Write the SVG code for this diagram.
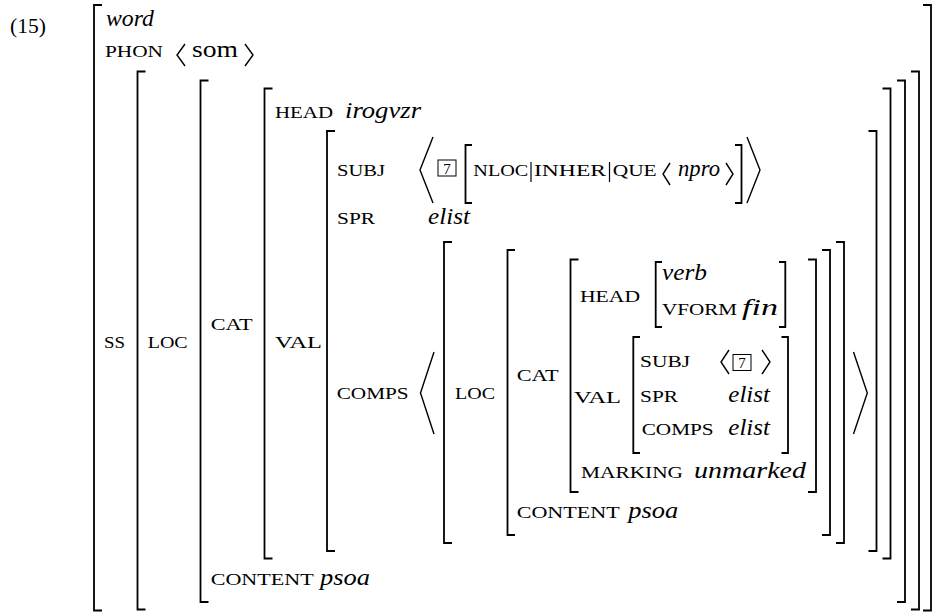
<svg xmlns="http://www.w3.org/2000/svg" width="932" height="612" viewBox="0 0 932 612">
<style>
.b{fill:none;stroke:#000;stroke-width:1.8}
.a{fill:none;stroke:#000;stroke-width:1.4;stroke-linejoin:miter}
.v{stroke:#000;stroke-width:1.2}
text{font-family:"Liberation Serif","Times New Roman",serif;fill:#000}
.sc{font-size:17.5px}
.it{font-size:24px;font-style:italic}
.rm{font-size:24px}
.bx{fill:none;stroke:#000;stroke-width:1}
.n{font-size:15px;text-anchor:middle}
</style>
<rect width="932" height="612" fill="#fff"/>
<g id="brackets">
<path class="b" d="M102,5 H94 V610.5 H102 M923,5 H931 V610.5 H923"/>
<path class="b" d="M145.5,71.5 H137.5 V609.5 H145.5 M911,71.5 H919 V609.5 H911"/>
<path class="b" d="M208.5,80.5 H200.5 V602 H208.5 M897,80.5 H905 V602 H897"/>
<path class="b" d="M272.5,88.5 H264.5 V558.5 H272.5 M882.5,88.5 H890.5 V558.5 H882.5"/>
<path class="b" d="M335,131 H327 V551 H335 M868.5,131 H876.5 V551 H868.5"/>
<path class="b" d="M472,145 H465.5 V203 H472 M735,145 H741.5 V203 H735"/>
<path class="b" d="M452,242 H444 V543 H452 M836,242 H844 V543 H836"/>
<path class="b" d="M515,250 H507.5 V535 H515 M822,250 H830 V535 H822"/>
<path class="b" d="M578.5,259.5 H570.5 V492 H578.5 M808,259.5 H816 V492 H808"/>
<path class="b" d="M662,262 H655.7 V327 H662 M779,262 H785.3 V327 H779"/>
<path class="b" d="M640,337 H633.3 V453 H640 M781.5,337 H788 V453 H781.5"/>
</g>
<g id="angles">
<polyline class="a" points="185,44 177,55 185,66"/>
<polyline class="a" points="245,44 253,55 245,66"/>
<polyline class="a" points="433,137 420,170 433,203"/>
<polyline class="a" points="747,137 760,170 747,203"/>
<polyline class="a" points="670,163 663,174 670,185"/>
<polyline class="a" points="726,163 733,174 726,185"/>
<polyline class="a" points="434,352 420.5,393 434,434"/>
<polyline class="a" points="853.5,352 867.3,393 853.5,434"/>
<polyline class="a" points="729,350 721,362 729,374"/>
<polyline class="a" points="762,350 770,362 762,374"/>
<line class="v" x1="531" y1="162" x2="531" y2="182"/>
<line class="v" x1="609.5" y1="162" x2="609.5" y2="182"/>
</g>
<g id="tags">
<rect class="bx" x="438" y="160" width="18" height="16"/>
<text class="n" x="447" y="173.5">7</text>
<rect class="bx" x="733" y="354.5" width="18" height="16"/>
<text class="n" x="742" y="368">7</text>
</g>
<g id="labels">
<text class="rm" x="10" y="33" font-size="21" style="font-size:21px" textLength="36" lengthAdjust="spacingAndGlyphs">(15)</text>
<text class="it" x="106" y="26" textLength="48" lengthAdjust="spacingAndGlyphs">word</text>
<text class="sc" x="105" y="56.7" textLength="58" lengthAdjust="spacingAndGlyphs">PHON</text>
<text class="rm" x="192" y="56.7" textLength="46" lengthAdjust="spacingAndGlyphs">som</text>
<text class="sc" x="275" y="118" textLength="58" lengthAdjust="spacingAndGlyphs">HEAD</text>
<text class="it" x="345" y="118" textLength="76" lengthAdjust="spacingAndGlyphs">irogvzr</text>
<text class="sc" x="337" y="175.5" textLength="48" lengthAdjust="spacingAndGlyphs">SUBJ</text>
<text class="sc" x="473.3" y="175.5" textLength="55" lengthAdjust="spacingAndGlyphs">NLOC</text>
<text class="sc" x="534" y="175.5" textLength="72" lengthAdjust="spacingAndGlyphs">INHER</text>
<text class="sc" x="612.7" y="175.5" textLength="44" lengthAdjust="spacingAndGlyphs">QUE</text>
<text class="it" x="678" y="175.5" textLength="42" lengthAdjust="spacingAndGlyphs">npro</text>
<text class="sc" x="337" y="224" textLength="38" lengthAdjust="spacingAndGlyphs">SPR</text>
<text class="it" x="428" y="224" textLength="42" lengthAdjust="spacingAndGlyphs">elist</text>
<text class="sc" x="104" y="348" textLength="21" lengthAdjust="spacingAndGlyphs">SS</text>
<text class="sc" x="147.7" y="348" textLength="40" lengthAdjust="spacingAndGlyphs">LOC</text>
<text class="sc" x="210.7" y="330" textLength="42" lengthAdjust="spacingAndGlyphs">CAT</text>
<text class="sc" x="275" y="348" textLength="47" lengthAdjust="spacingAndGlyphs">VAL</text>
<text class="sc" x="336.7" y="399" textLength="72" lengthAdjust="spacingAndGlyphs">COMPS</text>
<text class="sc" x="455" y="399" textLength="40" lengthAdjust="spacingAndGlyphs">LOC</text>
<text class="sc" x="516.7" y="381" textLength="42" lengthAdjust="spacingAndGlyphs">CAT</text>
<text class="sc" x="580" y="301.7" textLength="60" lengthAdjust="spacingAndGlyphs">HEAD</text>
<text class="it" x="662" y="280" textLength="45" lengthAdjust="spacingAndGlyphs">verb</text>
<text class="sc" x="662" y="315" textLength="75" lengthAdjust="spacingAndGlyphs">VFORM</text>
<text class="it" x="742" y="315" textLength="36" lengthAdjust="spacingAndGlyphs">fin</text>
<text class="sc" x="574" y="403" textLength="47" lengthAdjust="spacingAndGlyphs">VAL</text>
<text class="sc" x="640" y="366.7" textLength="50" lengthAdjust="spacingAndGlyphs">SUBJ</text>
<text class="sc" x="640" y="401.7" textLength="38" lengthAdjust="spacingAndGlyphs">SPR</text>
<text class="it" x="728.3" y="401.7" textLength="41.7" lengthAdjust="spacingAndGlyphs">elist</text>
<text class="sc" x="641.7" y="435" textLength="72" lengthAdjust="spacingAndGlyphs">COMPS</text>
<text class="it" x="728.3" y="435" textLength="41.7" lengthAdjust="spacingAndGlyphs">elist</text>
<text class="sc" x="581" y="478.3" textLength="102" lengthAdjust="spacingAndGlyphs">MARKING</text>
<text class="it" x="694" y="478.3" textLength="112" lengthAdjust="spacingAndGlyphs">unmarked</text>
<text class="sc" x="516.7" y="518.3" textLength="103" lengthAdjust="spacingAndGlyphs">CONTENT</text>
<text class="it" x="628.3" y="518.3" textLength="50" lengthAdjust="spacingAndGlyphs">psoa</text>
<text class="sc" x="210.7" y="585" textLength="103" lengthAdjust="spacingAndGlyphs">CONTENT</text>
<text class="it" x="320" y="585" textLength="50" lengthAdjust="spacingAndGlyphs">psoa</text>
</g>
</svg>
